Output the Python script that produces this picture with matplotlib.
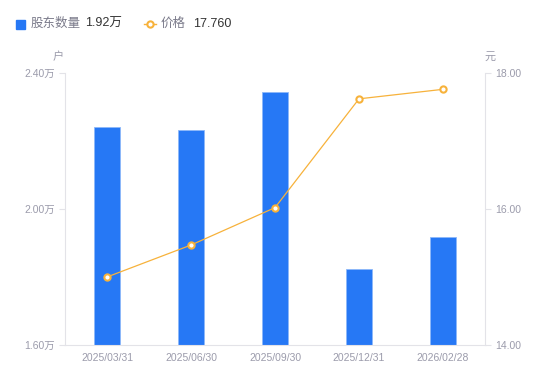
import matplotlib

matplotlib.use("Agg")
import matplotlib.pyplot as plt
from matplotlib.lines import Line2D
from matplotlib.patches import Rectangle

plt.rcParams["font.family"] = ["Liberation Sans", "Noto Sans CJK SC", "DejaVu Sans"]

# 数据
dates = ["2025/03/31", "2025/06/30", "2025/09/30", "2025/12/31", "2026/02/28"]
holders = [2.240, 2.232, 2.343, 1.824, 1.917]  # 万户
prices = [15.00, 15.47, 16.02, 17.62, 17.76]  # 元
left_ticks = [1.60, 2.00, 2.40]
right_ticks = [14.0, 16.0, 18.0]

BLUE = "#2678F5"
ORANGE = "#F7B23B"
GREY = "#9B9BAB"
AXIS = "#E3E3E8"

fig = plt.figure(figsize=(5.5, 3.81), dpi=100)
ax = fig.add_axes([65 / 550, 36 / 381, 420 / 550, 272 / 381])
ax2 = ax.twinx()

x = list(range(len(dates)))
ax.bar(x, holders, width=0.3, color=BLUE, edgecolor="#8DB8FA", linewidth=0.6, zorder=2)
ax.set_xlim(-0.5, len(dates) - 0.5)
ax.set_ylim(1.6, 2.4)
ax.set_yticks(left_ticks)
ax.set_yticklabels([f"{v:.2f}万" for v in left_ticks])
ax.set_xticks(x)
ax.set_xticklabels(dates)

ax2.plot(x, prices, color=ORANGE, lw=0.9, marker="o", ms=4.5,
         mfc="white", mec=ORANGE, mew=1.5, zorder=3)
ax2.set_ylim(14, 18)
ax2.set_yticks(right_ticks)
ax2.set_yticklabels([f"{v:.2f}" for v in right_ticks])

for a in (ax, ax2):
    for s in a.spines.values():
        s.set_visible(False)
    a.tick_params(labelsize=7.5, labelcolor=GREY, color=AXIS, length=4, width=0.8)
ax.spines["left"].set_visible(True)
ax.spines["left"].set_color(AXIS)
ax.spines["bottom"].set_visible(True)
ax.spines["bottom"].set_color(AXIS)
ax2.spines["right"].set_visible(True)
ax2.spines["right"].set_color(AXIS)
ax.tick_params(axis="x", length=0, pad=6)
ax.tick_params(axis="y", pad=3)
ax2.tick_params(axis="y", pad=3)

# 单位
fig.text(58 / 550, 1 - 57 / 381, "户", fontsize=8, color=GREY, ha="center", va="center")
fig.text(490 / 550, 1 - 57 / 381, "元", fontsize=8, color=GREY, ha="center", va="center")

# 图例
ly = 1 - 24 / 381
fig.patches.append(Rectangle((16 / 550, ly - 4.5 / 381), 9 / 550, 9 / 381,
                             transform=fig.transFigure, color=BLUE))
fig.text(31 / 550, ly, "股东数量", fontsize=9, color="#7A7A8A", va="center")
fig.text(85 / 550, ly, "1.92万", fontsize=9, color="#333333", va="center")
fig.lines.append(Line2D([144 / 550, 150 / 550, 156 / 550], [ly, ly, ly],
                        transform=fig.transFigure, color=ORANGE, lw=1, marker="o",
                        ms=4.5, mfc="white", mec=ORANGE, mew=1.5, markevery=[1]))
fig.text(161 / 550, ly, "价格", fontsize=9, color="#7A7A8A", va="center")
fig.text(193 / 550, ly, "17.760", fontsize=9, color="#333333", va="center")

fig.savefig("out.png", dpi=100)
